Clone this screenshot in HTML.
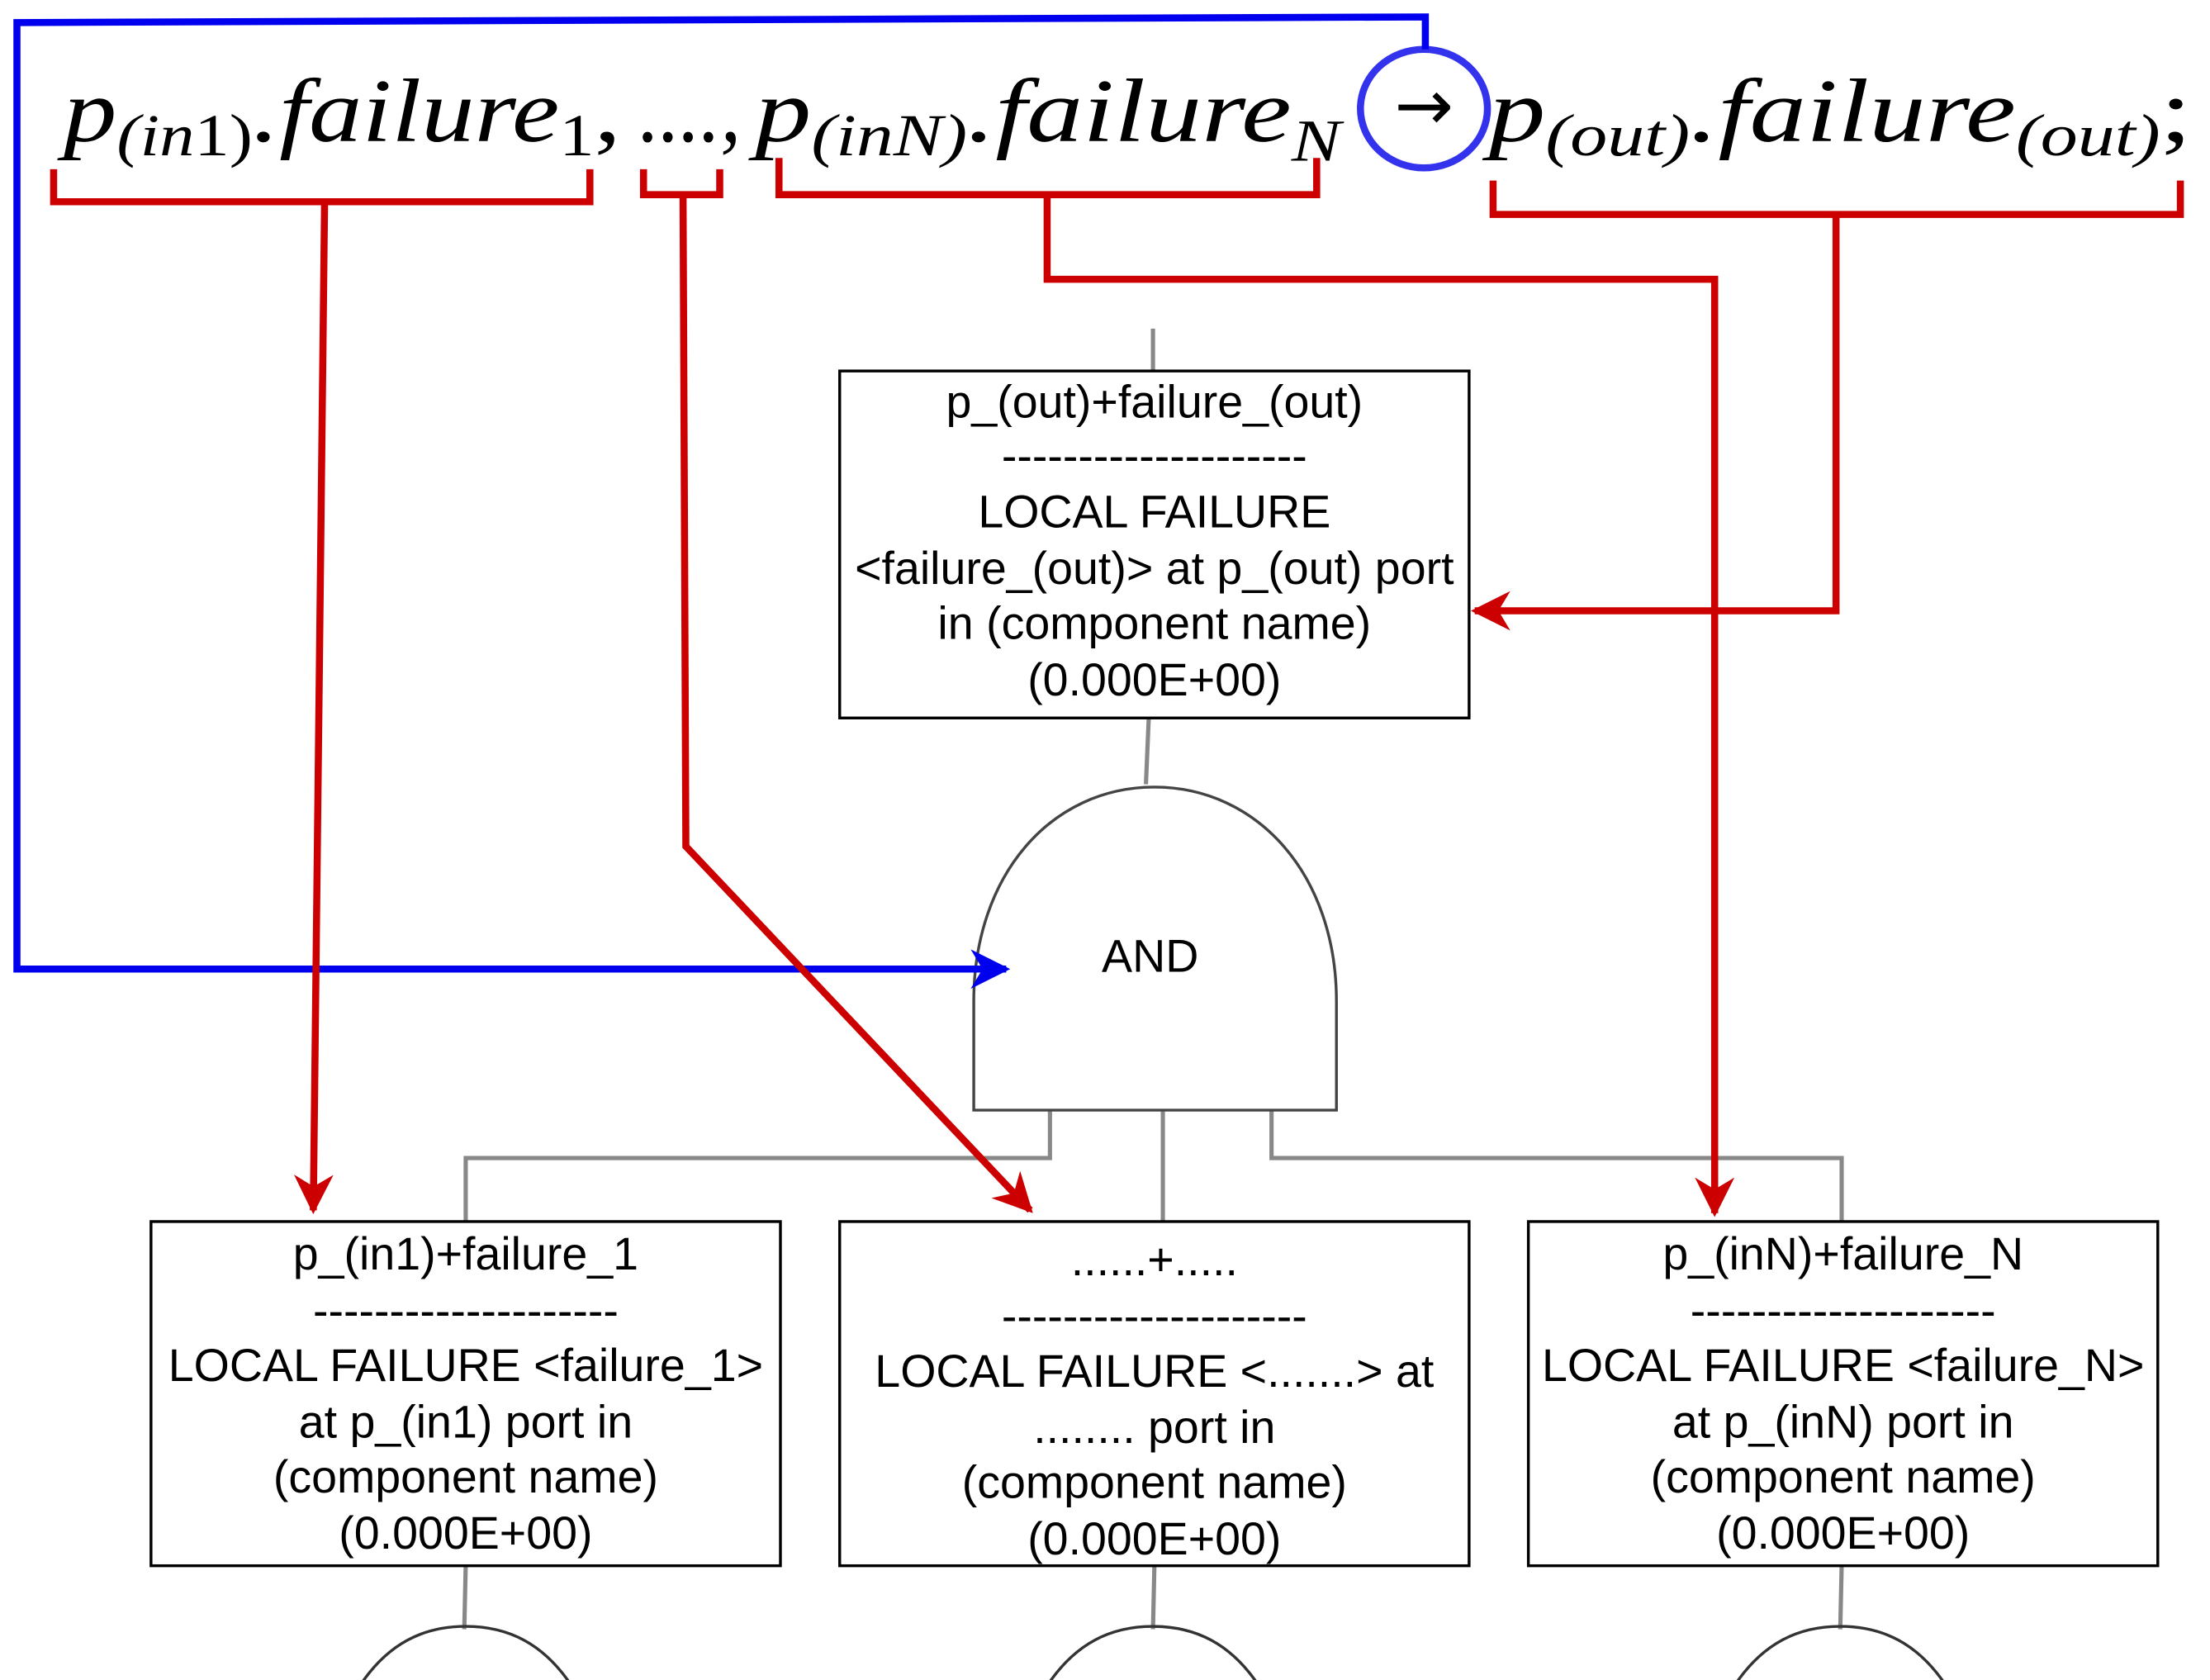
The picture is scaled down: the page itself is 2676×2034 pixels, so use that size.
<!DOCTYPE html>
<html><head><meta charset="utf-8"><style>
html,body{margin:0;padding:0;background:#fff;}
svg{display:block;}
.t{font-family:"Liberation Sans",sans-serif;font-size:32.5px;text-anchor:middle;fill:#000;}
.f{font-family:"Liberation Serif",serif;font-style:italic;fill:#000;}
</style></head><body>
<svg width="2676" height="2034" viewBox="0 0 1566 1191" preserveAspectRatio="none" xmlns="http://www.w3.org/2000/svg">
<defs>
<marker id="red" viewBox="0 0 10 10" refX="9" refY="5" markerWidth="28" markerHeight="28" markerUnits="userSpaceOnUse" orient="auto"><path d="M0,0 L10,5 L0,10 L3,5 Z" fill="#cc0000"/></marker>
<marker id="blue" viewBox="0 0 10 10" refX="9" refY="5" markerWidth="28" markerHeight="28" markerUnits="userSpaceOnUse" orient="auto"><path d="M0,0 L10,5 L0,10 L3,5 Z" fill="#0000ee"/></marker>
</defs>
<rect width="1566" height="1191" fill="#fff"/>

<!-- formula -->
<text class="f" x="45" y="100" font-size="64" textLength="395" lengthAdjust="spacingAndGlyphs">p<tspan font-size="42" dy="10">(in</tspan><tspan font-size="42" font-style="normal">1)</tspan><tspan dy="-10">.failure</tspan><tspan font-size="42" font-style="normal" dy="10">1</tspan><tspan dy="-10" font-style="normal">,</tspan></text>
<text class="f" x="453" y="100" font-size="64" font-style="normal" textLength="72" lengthAdjust="spacingAndGlyphs">....,</text>
<text class="f" x="535" y="100" font-size="64" textLength="415" lengthAdjust="spacingAndGlyphs">p<tspan font-size="42" dy="10">(inN)</tspan><tspan dy="-10">.failure</tspan><tspan font-size="42" dy="14">N</tspan></text>
<text x="1009" y="92" font-family="DejaVu Sans,sans-serif" font-size="50" text-anchor="middle">→</text>
<text class="f" x="1055" y="100" font-size="64" textLength="498" lengthAdjust="spacingAndGlyphs">p<tspan font-size="42" dy="10">(out)</tspan><tspan dy="-10">.failure</tspan><tspan font-size="42" dy="10">(out)</tspan><tspan dy="-10" font-style="normal">;</tspan></text>

<!-- gray connectors -->
<g fill="none" stroke="#888" stroke-width="3">
<line x1="817" y1="233" x2="817" y2="263"/>
<line x1="814" y1="509" x2="812" y2="556"/>
<polyline points="744,787 744,821 330,821 330,866"/>
<line x1="824" y1="787" x2="824" y2="866"/>
<polyline points="901,787 901,821 1305,821 1305,866"/>
<line x1="330" y1="1110" x2="329" y2="1155"/>
<line x1="818" y1="1110" x2="817" y2="1155"/>
<line x1="1305" y1="1110" x2="1304" y2="1155"/>
</g>

<!-- gate -->
<path d="M690,787 L690,710 C690,620 745,558 818,558 C891,558 947,620 947,710 L947,787 Z" fill="#fff" stroke="#444" stroke-width="2"/>
<text class="t" x="815" y="689" font-size="34">AND</text>

<!-- partial gates -->
<g fill="none" stroke="#333" stroke-width="2">
<path d="M255,1195 C275,1165 300,1153 330,1153 C360,1153 385,1165 405,1195"/>
<path d="M742,1195 C762,1165 787,1153 817,1153 C847,1153 872,1165 892,1195"/>
<path d="M1229,1195 C1249,1165 1274,1153 1304,1153 C1334,1153 1359,1165 1379,1195"/>
</g>

<!-- boxes -->
<g fill="#fff" stroke="#000" stroke-width="2">
<rect x="595" y="263" width="446" height="246"/>
<rect x="107" y="866" width="446" height="244"/>
<rect x="595" y="866" width="446" height="244"/>
<rect x="1083" y="866" width="446" height="244"/>
</g>

<!-- blue -->
<ellipse cx="1009" cy="77" rx="45" ry="42" fill="none" stroke="#3333ee" stroke-width="5"/>
<polyline points="1010,35 1010,12 12,16 12,687 713,687" fill="none" stroke="#0000ee" stroke-width="5" marker-end="url(#blue)"/>

<!-- red brackets -->
<g fill="none" stroke="#cc0000" stroke-width="5">
<polyline points="38,120 38,143 418,143 418,120"/>
<polyline points="230,143 222,858" marker-end="url(#red)"/>
<polyline points="456,120 456,138 510,138 510,120"/>
<polyline points="484,138 486,600 730,858" marker-end="url(#red)"/>
<polyline points="552,112 552,138 933,138 933,112"/>
<polyline points="742,138 742,198 1215,198 1215,860" marker-end="url(#red)"/>
<polyline points="1058,128 1058,152 1545,152 1545,128"/>
<polyline points="1301,152 1301,433 1045,433" marker-end="url(#red)"/>
</g>

<text class="t" x="818" y="296">p_(out)+failure_(out)</text>
<text class="t" x="818" y="334">--------------------</text>
<text class="t" x="818" y="374">LOCAL FAILURE</text>
<text class="t" x="818" y="414">&lt;failure_(out)&gt; at p_(out) port</text>
<text class="t" x="818" y="453">in (component name)</text>
<text class="t" x="818" y="493">(0.000E+00)</text>

<text class="t" x="330" y="900">p_(in1)+failure_1</text>
<text class="t" x="330" y="940">--------------------</text>
<text class="t" x="330" y="979">LOCAL FAILURE &lt;failure_1&gt;</text>
<text class="t" x="330" y="1019">at p_(in1) port in</text>
<text class="t" x="330" y="1058">(component name)</text>
<text class="t" x="330" y="1098">(0.000E+00)</text>

<text class="t" x="818" y="904">......+.....</text>
<text class="t" x="818" y="944">--------------------</text>
<text class="t" x="818" y="983">LOCAL FAILURE &lt;.......&gt; at</text>
<text class="t" x="818" y="1023">........ port in</text>
<text class="t" x="818" y="1062">(component name)</text>
<text class="t" x="818" y="1102">(0.000E+00)</text>

<text class="t" x="1306" y="900">p_(inN)+failure_N</text>
<text class="t" x="1306" y="940">--------------------</text>
<text class="t" x="1306" y="979">LOCAL FAILURE &lt;failure_N&gt;</text>
<text class="t" x="1306" y="1019">at p_(inN) port in</text>
<text class="t" x="1306" y="1058">(component name)</text>
<text class="t" x="1306" y="1098">(0.000E+00)</text>
</svg>
</body></html>
